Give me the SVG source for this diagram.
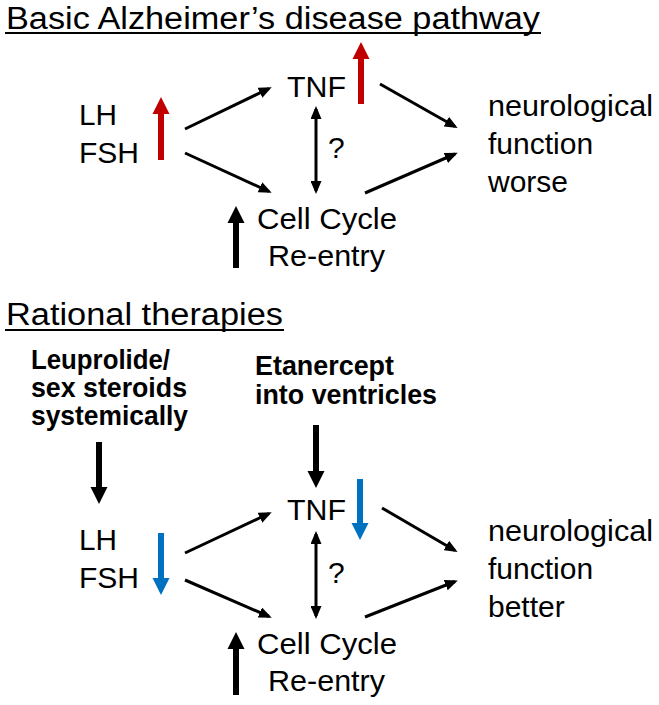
<svg xmlns="http://www.w3.org/2000/svg" width="659" height="705" viewBox="0 0 659 705">
<style>
text{font-family:"Liberation Sans",Arial,sans-serif;fill:#000}
.t{font-size:31px}
.l{font-size:30px}
.b{font-size:27px;font-weight:bold}
.c{stroke:#000;stroke-width:3;fill:none;marker-end:url(#ah)}
.d{marker-start:url(#ah2)}
.ul{stroke:#000;stroke-width:2}
</style>
<defs>
<marker id="ah" markerUnits="userSpaceOnUse" markerWidth="13" markerHeight="11" refX="10" refY="5.5" orient="auto"><path d="M0,0 L13,5.5 L0,11 z" fill="#000"/></marker>
<marker id="ah2" markerUnits="userSpaceOnUse" markerWidth="13" markerHeight="11" refX="10" refY="5.5" orient="auto-start-reverse"><path d="M0,0 L13,5.5 L0,11 z" fill="#000"/></marker>
</defs>
<rect width="659" height="705" fill="#fff"/>
<g id="title1"><text class="t" x="6" y="29" textLength="534" lengthAdjust="spacingAndGlyphs">Basic Alzheimer’s disease pathway</text><line class="ul" x1="5" y1="33" x2="541" y2="33"/></g>
<g id="title2"><text class="t" x="6" y="325" textLength="277" lengthAdjust="spacingAndGlyphs">Rational therapies</text><line class="ul" x1="5" y1="330" x2="284" y2="330"/></g>

<g id="lhfsh1"><text class="l" x="79" y="125" textLength="38" lengthAdjust="spacingAndGlyphs">LH</text><text class="l" x="79" y="163" textLength="60" lengthAdjust="spacingAndGlyphs">FSH</text>
<polygon fill="#C00000" points="158,160 158,114 152.5,114 161,97 169.5,114 164,114 164,160"/></g>
<g id="tnf1"><text class="l" x="287" y="97" textLength="59" lengthAdjust="spacingAndGlyphs">TNF</text>
<polygon fill="#C00000" points="358,104 358,59 352.5,59 361,42 369.5,59 364,59 364,104"/></g>
<g id="q1"><text class="l" x="328" y="158">?</text></g>
<g id="neuro1"><text class="l" x="488" y="116" textLength="165" lengthAdjust="spacingAndGlyphs">neurological</text><text class="l" x="488" y="154">function</text><text class="l" x="488" y="192">worse</text></g>
<g id="cell1"><text class="l" x="257" y="229" textLength="140" lengthAdjust="spacingAndGlyphs">Cell Cycle</text><text class="l" x="268" y="266" textLength="117" lengthAdjust="spacingAndGlyphs">Re-entry</text></g>

<g id="leup"><text class="b" x="31" y="369" textLength="139" lengthAdjust="spacingAndGlyphs">Leuprolide/</text><text class="b" x="31" y="397" textLength="156" lengthAdjust="spacingAndGlyphs">sex steroids</text><text class="b" x="31" y="425" textLength="157" lengthAdjust="spacingAndGlyphs">systemically</text></g>
<g id="etan"><text class="b" x="255" y="375" textLength="139" lengthAdjust="spacingAndGlyphs">Etanercept</text><text class="b" x="255" y="404" textLength="182" lengthAdjust="spacingAndGlyphs">into ventricles</text></g>

<g id="lhfsh2"><text class="l" x="79" y="550" textLength="38" lengthAdjust="spacingAndGlyphs">LH</text><text class="l" x="79" y="588" textLength="60" lengthAdjust="spacingAndGlyphs">FSH</text>
<polygon fill="#0070C0" points="158,533 158,578 152.5,578 161,595 169.5,578 164,578 164,533"/></g>
<g id="tnf2"><text class="l" x="287" y="520" textLength="59" lengthAdjust="spacingAndGlyphs">TNF</text>
<polygon fill="#0070C0" points="357,479 357,523 351.5,523 360,540 368.5,523 363,523 363,479"/></g>
<g id="q2"><text class="l" x="328" y="583">?</text></g>
<g id="neuro2"><text class="l" x="488" y="541" textLength="165" lengthAdjust="spacingAndGlyphs">neurological</text><text class="l" x="488" y="579">function</text><text class="l" x="488" y="617">better</text></g>
<g id="cell2"><text class="l" x="257" y="654" textLength="140" lengthAdjust="spacingAndGlyphs">Cell Cycle</text><text class="l" x="268" y="691" textLength="117" lengthAdjust="spacingAndGlyphs">Re-entry</text></g>

<g id="connectors">
<line class="c" x1="185" y1="129" x2="269" y2="88.5"/>
<line class="c" x1="185" y1="153" x2="269" y2="191.5"/>
<line class="c d" x1="316" y1="109" x2="316" y2="191"/>
<line class="c" x1="380" y1="84" x2="455" y2="126.5"/>
<line class="c" x1="365" y1="193" x2="455" y2="154"/>
<polygon fill="#000" points="233,268 233,223 227.5,223 236,206 244.5,223 239,223 239,268"/>

<polygon fill="#000" points="96,442 96,487 90.5,487 99,504 107.5,487 102,487 102,442"/>
<polygon fill="#000" points="313,425 313,471 307.5,471 316,488 324.5,471 319,471 319,425"/>
<line class="c" x1="185" y1="553" x2="269" y2="513.5"/>
<line class="c" x1="185" y1="580" x2="269" y2="616.5"/>
<line class="c d" x1="316" y1="534" x2="316" y2="616"/>
<line class="c" x1="382" y1="508" x2="455" y2="550.5"/>
<line class="c" x1="365" y1="617" x2="455" y2="581.5"/>
<polygon fill="#000" points="233,695 233,649 227.5,649 236,632 244.5,649 239,649 239,695"/>
</g>
</svg>
